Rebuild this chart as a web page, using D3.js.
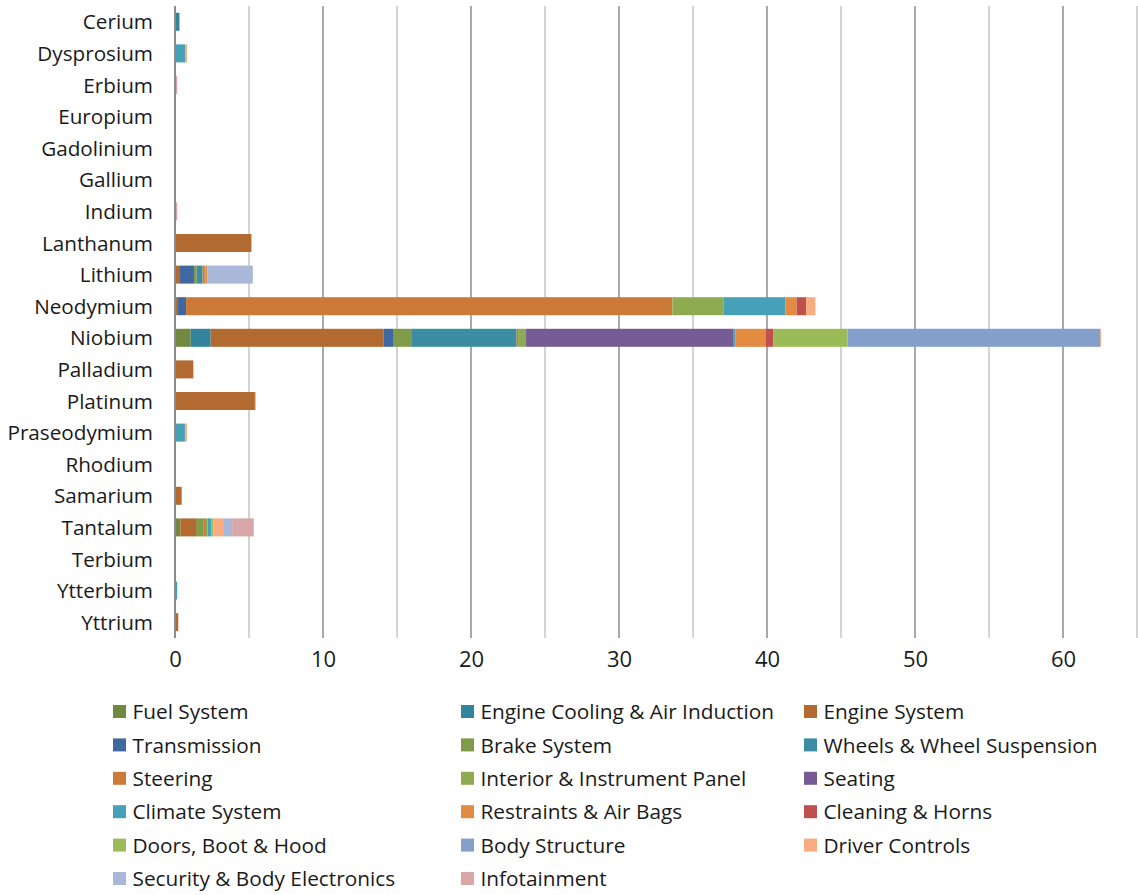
<!DOCTYPE html>
<html>
<head>
<meta charset="utf-8">
<script src="https://cdn.jsdelivr.net/npm/d3@7"></script>
<style>
  html, body { margin: 0; padding: 0; background: #fff; }
  svg { display: block; font-family: "Open Sans", Lato, sans-serif; }
</style>
</head>
<body>
<svg id="chart" width="1138" height="895"></svg>
<script>
// Elements (rows, top to bottom)
const elements = ["Cerium", "Dysprosium", "Erbium", "Europium", "Gadolinium", "Gallium", "Indium",
  "Lanthanum", "Lithium", "Neodymium", "Niobium", "Palladium", "Platinum", "Praseodymium",
  "Rhodium", "Samarium", "Tantalum", "Terbium", "Ytterbium", "Yttrium"];

// Vehicle systems (stack order)
const systems = ["Fuel System", "Engine Cooling & Air Induction", "Engine System", "Transmission",
  "Brake System", "Wheels & Wheel Suspension", "Steering", "Interior & Instrument Panel", "Seating",
  "Climate System", "Restraints & Air Bags", "Cleaning & Horns", "Doors, Boot & Hood",
  "Body Structure", "Driver Controls", "Security & Body Electronics", "Infotainment"];

const colors = ["#71893f", "#31849b", "#b36a30", "#3f67a0", "#7f9a48", "#3c8da3", "#cc7a38",
  "#8fab52", "#765b95", "#45a0b8", "#e38b40", "#c0504d", "#9bbb59", "#849fcb", "#f9ac80",
  "#a9b8d9", "#d9a7a8"];

// Amount per system, one array per element, in the order of `systems`
const cerium       = [0, 0.3, 0, 0, 0, 0, 0, 0, 0, 0, 0, 0, 0, 0, 0, 0, 0];
const dysprosium   = [0, 0, 0, 0, 0, 0, 0, 0, 0, 0.68, 0, 0, 0, 0, 0.13, 0, 0];
const erbium       = [0, 0, 0, 0, 0, 0, 0, 0, 0, 0, 0, 0, 0, 0, 0, 0, 0.15];
const europium     = [0, 0, 0, 0, 0, 0, 0, 0, 0, 0, 0, 0, 0, 0, 0, 0, 0];
const gadolinium   = [0, 0, 0, 0, 0, 0, 0, 0, 0, 0, 0, 0, 0, 0, 0, 0, 0];
const gallium      = [0, 0, 0, 0, 0, 0, 0, 0, 0, 0, 0, 0, 0, 0, 0, 0, 0.06];
const indium       = [0, 0, 0, 0, 0, 0, 0, 0, 0, 0, 0, 0, 0, 0, 0, 0, 0.15];
const lanthanum    = [0, 0, 5.15, 0, 0, 0, 0, 0, 0, 0, 0, 0, 0, 0, 0.05, 0, 0];
const lithium      = [0, 0, 0.34, 0.94, 0.18, 0.4, 0.15, 0.07, 0, 0, 0.1, 0, 0, 0, 0, 3.08, 0];
const neodymium    = [0, 0, 0.15, 0.6, 0, 0, 32.86, 3.47, 0, 4.16, 0.77, 0.63, 0, 0, 0.63, 0, 0];
const niobium      = [1.06, 1.35, 11.69, 0.63, 1.28, 7.07, 0.1, 0.54, 14.03, 0.13, 2.05, 0.51, 5.0, 17.07, 0.07, 0, 0];
const palladium    = [0, 0, 1.24, 0, 0, 0, 0, 0, 0, 0, 0, 0, 0, 0, 0, 0, 0];
const platinum     = [0, 0, 5.4, 0, 0, 0, 0, 0, 0, 0, 0, 0, 0, 0, 0.06, 0, 0];
const praseodymium = [0, 0, 0, 0, 0, 0, 0, 0, 0, 0.67, 0, 0, 0, 0, 0.13, 0, 0];
const rhodium      = [0, 0, 0, 0, 0, 0, 0, 0, 0, 0, 0, 0, 0, 0, 0, 0, 0];
const samarium     = [0, 0, 0.45, 0, 0, 0, 0, 0, 0, 0, 0, 0, 0, 0, 0, 0, 0];
const tantalum     = [0.36, 0, 1.06, 0, 0.49, 0, 0.18, 0.11, 0, 0.27, 0, 0, 0.11, 0, 0.67, 0.61, 1.46];
const terbium      = [0, 0, 0, 0, 0, 0, 0, 0, 0, 0, 0, 0, 0, 0, 0, 0, 0];
const ytterbium    = [0, 0, 0, 0, 0, 0, 0, 0, 0, 0.15, 0, 0, 0, 0, 0, 0, 0];
const yttrium      = [0, 0, 0.22, 0, 0, 0, 0, 0, 0, 0, 0, 0, 0, 0, 0, 0, 0];

const xTicks = [0, 10, 20, 30, 40, 50, 60];

const rowsData = [cerium, dysprosium, erbium, europium, gadolinium, gallium, indium, lanthanum,
  lithium, neodymium, niobium, palladium, platinum, praseodymium, rhodium, samarium, tantalum,
  terbium, ytterbium, yttrium];

const table = elements.map((el, i) => {
  const row = { element: el };
  systems.forEach((s, j) => { row[s] = rowsData[i][j]; });
  return row;
});

const svg = d3.select("#chart");
const x = d3.scaleLinear().domain([0, 65]).range([175, 1137]);
const y = d3.scaleBand().domain(elements).range([6, 638]).paddingInner(0.43).paddingOuter(0.215);
const color = d3.scaleOrdinal().domain(systems).range(colors);
const font = "'Open Sans', Lato, sans-serif";

// Vertical gridlines every 5 units
svg.append("g").selectAll("line")
  .data(d3.range(5, 66, 5))
  .join("line")
  .attr("x1", d => x(d)).attr("x2", d => x(d))
  .attr("y1", 6).attr("y2", 638)
  .attr("stroke", d => d % 10 === 0 ? "#8c8c8c" : "#c4c4c4")
  .attr("stroke-width", 1.5);

// Stacked bars
const stack = d3.stack().keys(systems)(table);
svg.append("g").selectAll("g")
  .data(stack)
  .join("g")
  .attr("fill", d => color(d.key))
  .selectAll("rect")
  .data(d => d)
  .join("rect")
  .attr("x", d => x(d[0]))
  .attr("width", d => Math.max(0, x(d[1]) - x(d[0])))
  .attr("y", d => y(d.data.element))
  .attr("height", y.bandwidth());

// Value axis line at zero
svg.append("line")
  .attr("x1", x(0)).attr("x2", x(0)).attr("y1", 6).attr("y2", 638)
  .attr("stroke", "#8c8c8c").attr("stroke-width", 2);

// Category labels
const yAxis = svg.append("g")
  .attr("transform", `translate(${x(0) - 22},1)`)
  .call(d3.axisLeft(y).tickSize(0).tickPadding(0));
yAxis.select(".domain").remove();
yAxis.selectAll("text")
  .attr("font-size", 20.7).attr("fill", "#1a1a1a")
  .attr("font-family", font);

// Value ticks
const xAxis = svg.append("g")
  .attr("transform", "translate(0,651)")
  .call(d3.axisBottom(x).tickValues(xTicks).tickSize(0).tickPadding(0));
xAxis.select(".domain").remove();
xAxis.selectAll("text")
  .attr("font-size", 22).attr("fill", "#1a1a1a")
  .attr("font-family", font);

// Legend: three columns
const colX = [113, 461, 804];
const legend = svg.append("g");
const items = legend.selectAll("g")
  .data(systems)
  .join("g")
  .attr("transform", (d, i) => `translate(${colX[i % 3]},${712 + Math.floor(i / 3) * 33.4})`);
items.append("rect")
  .attr("x", 0).attr("y", -7).attr("width", 13).attr("height", 13)
  .attr("fill", d => color(d));
items.append("text")
  .attr("x", 19.5).attr("y", 0).attr("dy", "0.35em")
  .attr("font-size", 20.8).attr("fill", "#1a1a1a")
  .attr("font-family", font)
  .text(d => d);
</script>
</body>
</html>
